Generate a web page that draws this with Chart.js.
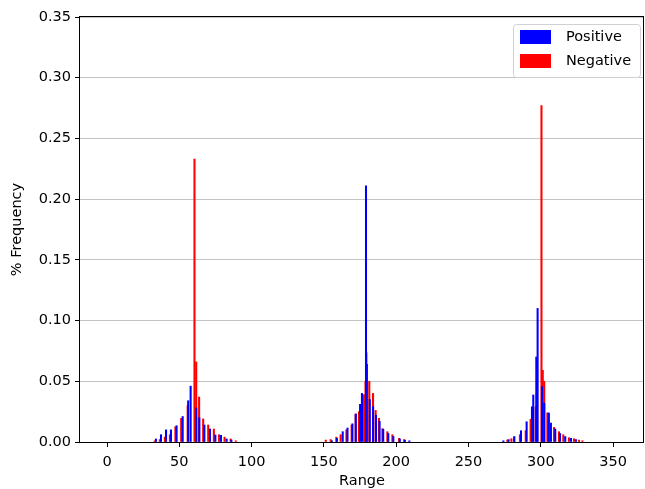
<!DOCTYPE html>
<html>
<head>
<meta charset="utf-8">
<script src="https://cdn.jsdelivr.net/npm/chart.js@4.4.0/dist/chart.umd.min.js"></script>
<style>
  html, body { margin: 0; padding: 0; background: #fff; }
</style>
</head>
<body>
<canvas id="mainChart" width="645" height="489"></canvas>
<script>
// Data
const posRange = [
  34.3, 37.8, 41.3, 44.7, 48.6, 52.8, 56.6, 58.3, 62.2, 64.3, 67.8, 71.7, 75.4, 79.3, 83.2, 86.5,
  156.0, 159.5, 163.5, 166.8, 170.2, 172.5, 175.5, 176.8, 179.6, 180.2, 182.2, 184.5, 186.5, 189.0, 191.5, 195.0, 198.5, 203.0, 206.5, 209.6,
  274.6, 278.2, 282.2, 286.8, 290.7, 294.4, 295.3, 297.4, 298.3, 301.3, 302.9, 305.9, 307.5, 310.5, 313.8, 317.4, 321.4, 324.8
];
const posFreq = [
  0.0025, 0.006, 0.010, 0.010, 0.0134, 0.021, 0.034, 0.046, 0.028, 0.020, 0.014, 0.0107, 0.0058, 0.0055, 0.0025, 0.0016,
  0.001, 0.003, 0.0085, 0.0115, 0.015, 0.023, 0.031, 0.040, 0.211, 0.064, 0.035, 0.029, 0.022, 0.017, 0.0105, 0.007, 0.0045, 0.0025, 0.0015, 0.001,
  0.001, 0.002, 0.0045, 0.0093, 0.0167, 0.029, 0.0387, 0.070, 0.110, 0.0456, 0.032, 0.0239, 0.0156, 0.0107, 0.007, 0.0045, 0.003, 0.002
];
const negRange = [
  32.5, 36.0, 39.5, 43.0, 46.8, 50.8, 55.3, 60.0, 61.2, 63.2, 66.0, 69.5, 73.4, 77.0, 80.8, 85.0, 88.5,
  150.8, 154.2, 158.1, 161.1, 165.1, 168.7, 171.5, 173.8, 177.3, 178.3, 178.9, 180.9, 183.5, 185.3, 187.6, 190.0, 193.4, 196.9, 201.5, 205.0,
  276.4, 279.2, 281.0, 285.1, 289.1, 292.5, 296.0, 296.7, 300.0, 300.9, 301.9, 304.1, 305.2, 308.7, 312.1, 315.1, 319.0, 322.5, 326.0, 328.3
];
const negFreq = [
  0.001, 0.002, 0.004, 0.006, 0.0126, 0.0195, 0.030, 0.233, 0.066, 0.037, 0.019, 0.014, 0.0107, 0.006, 0.004, 0.0025, 0.001,
  0.0016, 0.002, 0.004, 0.006, 0.010, 0.014, 0.023, 0.025, 0.039, 0.050, 0.0736, 0.050, 0.040, 0.026, 0.0195, 0.011, 0.0085, 0.006, 0.003, 0.002,
  0.0016, 0.0027, 0.004, 0.006, 0.0093, 0.0187, 0.029, 0.040, 0.277, 0.059, 0.050, 0.024, 0.0235, 0.012, 0.0085, 0.006, 0.0035, 0.0027, 0.0016, 0.001
];
const xTicks = [0, 50, 100, 150, 200, 250, 300, 350];
const yTicks = [0, 0.05, 0.10, 0.15, 0.20, 0.25, 0.30, 0.35];

const fontFamily = "'DejaVu Sans', sans-serif";
const fontSize = 14.5;

// box around the plot area (all four spines)
const framePlugin = {
  id: "frame",
  afterDraw(chart) {
    const { ctx, chartArea: a } = chart;
    ctx.save();
    ctx.strokeStyle = "#000";
    ctx.lineWidth = 1;
    ctx.strokeRect(Math.round(a.left) - 0.5, Math.round(a.top) - 0.5, Math.round(a.right - a.left), Math.round(a.bottom - a.top) + 1);
    ctx.restore();
  }
};

// matplotlib-style legend in the upper right corner
const legendPlugin = {
  id: "mplLegend",
  afterDraw(chart) {
    const { ctx, chartArea: a } = chart;
    const boxW = 127, boxH = 53;
    const x0 = a.right - 4 - boxW, y0 = a.top + 7;
    ctx.save();
    ctx.fillStyle = "rgba(255,255,255,0.8)";
    ctx.strokeStyle = "#d0d0d0";
    ctx.lineWidth = 1;
    ctx.beginPath();
    ctx.roundRect(x0 + 0.5, y0 + 0.5, boxW, boxH, 3);
    ctx.fill();
    ctx.stroke();
    ctx.font = fontSize + "px " + fontFamily;
    ctx.textBaseline = "middle";
    chart.data.datasets.forEach((ds, i) => {
      const ry = y0 + 6 + i * 24;
      ctx.fillStyle = ds.backgroundColor;
      ctx.fillRect(x0 + 7, ry, 31, 14);
      ctx.fillStyle = "#000";
      ctx.fillText(ds.label, x0 + 53, ry + 7);
    });
    ctx.restore();
  }
};

const toPoints = (xs, ys) => xs.map((x, i) => ({ x: x, y: ys[i] }));

const chart = {
  datasets: [{
    label: "Positive",
    data: toPoints(posRange, posFreq),
    backgroundColor: "#0000ff",
    barThickness: 1.4
  }, {
    label: "Negative",
    data: toPoints(negRange, negFreq),
    backgroundColor: "#ff0000",
    barThickness: 1.4
  }]
};

const config = {
  type: "bar",
  data: chart,
  options: {
    responsive: false,
    animation: false,
    layout: { padding: { left: 0, top: 17, right: 1, bottom: 0 } },
    plugins: { legend: { display: false }, tooltip: { enabled: false } },
    scales: {
      x: {
        type: "linear",
        min: -18.7,
        max: 371.4,
        offset: false,
        afterBuildTicks: s => { s.ticks = xTicks.map(v => ({ value: v })); },
        afterFit: s => { s.height = 47; },
        border: { display: false },
        grid: { offset: false, drawOnChartArea: false, drawTicks: true, tickLength: 5, tickColor: "#000", tickWidth: 1 },
        ticks: { color: "#000", padding: 7, maxRotation: 0, font: { family: fontFamily, size: fontSize } },
        title: { display: true, text: "Range", color: "#000", padding: { top: 0, bottom: -1 }, font: { family: fontFamily, size: fontSize } }
      },
      y: {
        min: 0,
        max: 0.35,
        z: 1,
        afterBuildTicks: s => { s.ticks = yTicks.map(v => ({ value: v })); },
        afterFit: s => { s.width = 80; },
        border: { display: false },
        grid: { color: "#c4c4c4", lineWidth: 1, tickColor: "#000", tickLength: 5, tickWidth: 1 },
        ticks: { color: "#000", padding: 4, callback: v => v.toFixed(2), font: { family: fontFamily, size: fontSize } },
        title: { display: true, text: "% Frequency", color: "#000", padding: { top: 9, bottom: 0 }, font: { family: fontFamily, size: fontSize } }
      }
    }
  },
  plugins: [framePlugin, legendPlugin]
};

const myChart = new Chart(document.getElementById("mainChart"), config);
</script>
</body>
</html>
